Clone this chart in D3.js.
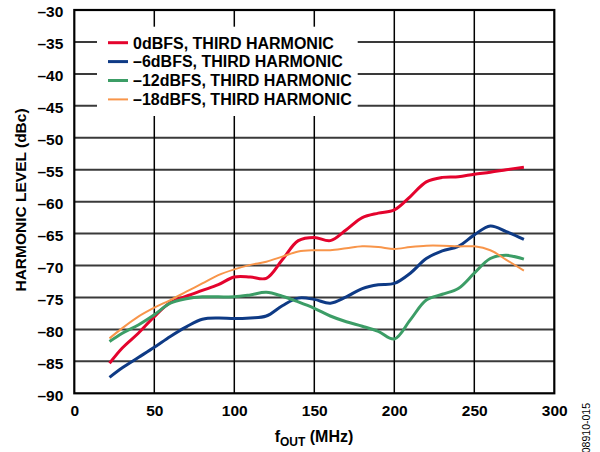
<!DOCTYPE html>
<html><head><meta charset="utf-8">
<script src="https://cdn.jsdelivr.net/npm/d3@7"></script>
<style>
html,body{margin:0;padding:0;background:#fff;}
text{font-family:Arial,"Liberation Sans",sans-serif;font-weight:bold;fill:#000;}
</style></head>
<body>
<svg id="chart" width="600" height="452"></svg>
<script>
const freqs = [22,30,40,50,60,70,80,90,100,110,120,130,140,150,160,170,180,190,200,210,220,230,240,250,260,270,281];
const dbfs0  = [-85.3,-82.9,-80.6,-78.0,-75.8,-74.8,-73.9,-73.0,-71.8,-71.8,-72.0,-69.1,-66.1,-65.6,-66.1,-64.4,-62.5,-61.8,-61.3,-59.2,-56.9,-56.2,-56.1,-55.7,-55.4,-55.0,-54.6];
const dbfs6  = [-87.5,-86.0,-84.4,-82.8,-81.1,-79.6,-78.4,-78.2,-78.3,-78.2,-77.9,-76.3,-75.1,-75.3,-75.9,-74.9,-73.6,-73.0,-72.8,-71.2,-68.9,-67.7,-67.0,-65.2,-63.8,-64.7,-65.9];
const dbfs12 = [-81.9,-80.6,-79.3,-77.7,-75.9,-75.2,-74.9,-74.9,-74.9,-74.6,-74.2,-74.8,-75.7,-76.7,-77.9,-78.8,-79.5,-80.3,-81.5,-78.5,-75.4,-74.5,-73.6,-71.2,-68.9,-68.4,-69.0];
const dbfs18 = [-81.4,-79.8,-78.0,-76.6,-75.4,-74.1,-72.8,-71.5,-70.6,-69.9,-69.4,-68.6,-67.8,-67.6,-67.6,-67.3,-67.0,-67.1,-67.4,-67.1,-66.9,-66.9,-67.0,-67.0,-67.6,-69.1,-70.8];
const seriesNames = ["0dBFS, THIRD HARMONIC","\u20136dBFS, THIRD HARMONIC","\u201312dBFS, THIRD HARMONIC","\u201318dBFS, THIRD HARMONIC"];
const seriesColors = ["#e4032d","#0e3a85","#3c9d66","#f8954a"];
const seriesWidths = [3,3,3,2];
const xTicks = [0,50,100,150,200,250,300];
const yTicks = [-30,-35,-40,-45,-50,-55,-60,-65,-70,-75,-80,-85,-90];
const allSeries = [dbfs0,dbfs6,dbfs12,dbfs18];

const svg = d3.select("#chart");
const L=74.3, R=554.3, T=10, B=393.3;
const x = d3.scaleLinear().domain([0,300]).range([L,R]);
const y = d3.scaleLinear().domain([-90,-30]).range([B,T]);
const fmt = v => v<0 ? "\u2013"+Math.abs(v) : String(v);

// grid
svg.append("g").selectAll("line").data(yTicks.filter(v=>v>-90&&v<-30)).join("line")
  .attr("x1",L).attr("x2",R).attr("y1",d=>y(d)).attr("y2",d=>y(d))
  .attr("stroke","#3a3a3a").attr("stroke-width",2);
svg.append("g").selectAll("line").data(xTicks.filter(v=>v>0&&v<300)).join("line")
  .attr("x1",d=>x(d)).attr("x2",d=>x(d)).attr("y1",T).attr("y2",B)
  .attr("stroke","#000").attr("stroke-width",1.5);

// legend background
svg.append("rect").attr("x",97).attr("y",26.7).attr("width",260.7).attr("height",89.3).attr("fill","#fff");

// frame
svg.append("rect").attr("x",L).attr("y",T).attr("width",R-L).attr("height",B-T)
  .attr("fill","none").attr("stroke","#000").attr("stroke-width",2.2);

// axes labels via d3 axes
const yAxis = svg.append("g").attr("transform",`translate(${L},0)`)
  .call(d3.axisLeft(y).tickValues(yTicks).tickFormat(fmt).tickSize(0).tickPadding(11));
yAxis.select(".domain").remove();
yAxis.selectAll("text").style("font-size","15.5px").attr("dy","0.45em").attr("fill","#000");

const xAxis = svg.append("g").attr("transform",`translate(0,${B})`)
  .call(d3.axisBottom(x).tickValues(xTicks).tickFormat(fmt).tickSize(0).tickPadding(12));
xAxis.select(".domain").remove();
xAxis.selectAll("text").style("font-size","15.5px").attr("dy","0.71em").attr("fill","#000");

// lines
const line = d3.line().x((d,i)=>x(freqs[i])).y(d=>y(d)).curve(d3.curveCatmullRom.alpha(0.5));
allSeries.forEach((s,k)=>{
  svg.append("path").datum(s).attr("d",line).attr("fill","none")
    .attr("stroke",seriesColors[k]).attr("stroke-width",seriesWidths[k])
    .attr("stroke-linejoin","round").attr("stroke-linecap","butt");
});

// legend
const leg = svg.append("g");
seriesNames.forEach((n,k)=>{
  const yy = 42.7 + k*18.9;
  leg.append("line").attr("x1",108).attr("x2",128).attr("y1",yy).attr("y2",yy)
    .attr("stroke",seriesColors[k]).attr("stroke-width",seriesWidths[k]);
  leg.append("text").attr("x",133).attr("y",yy+5.8).style("font-size","16px").text(n);
});

// axis titles
svg.append("text").attr("transform","translate(26,200) rotate(-90)").attr("text-anchor","middle")
  .style("font-size","15.5px").text("HARMONIC LEVEL (dBc)");
const xt = svg.append("text").attr("x",314).attr("y",442).attr("text-anchor","middle").style("font-size","16px");
xt.append("tspan").text("f");
xt.append("tspan").attr("dy",4).style("font-size","12px").text("OUT");
xt.append("tspan").attr("dy",-4).text(" (MHz)");

svg.append("text").attr("transform","translate(590,403) rotate(-90)").attr("text-anchor","end")
  .style("font-size","10.5px").style("font-weight","normal").attr("fill","#444").text("08910-015");
</script>
</body></html>
